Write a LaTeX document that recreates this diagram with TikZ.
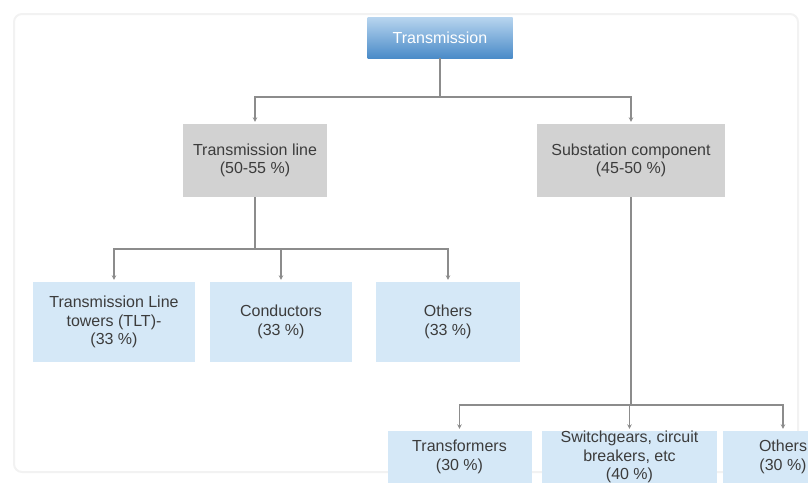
\documentclass[tikz,border=0pt]{standalone}
\usepackage{fontspec}
\setmainfont{Liberation Sans}
\usetikzlibrary{arrows.meta,positioning}
\definecolor{txInk}  {HTML}{3C3C3C}
\definecolor{txLine} {HTML}{8C8C8C}
\definecolor{txGrey} {HTML}{D2D2D2}
\definecolor{txPale} {HTML}{D5E8F7}
\definecolor{txTopA} {HTML}{B8D5EF}
\definecolor{txTopB} {HTML}{4A8BC8}
\definecolor{txFrame}{HTML}{F2F2F2}

\begin{document}
\begin{tikzpicture}[x=1pt,y=-1pt,font=\fontsize{16}{18.5}\selectfont,
      head/.style={draw=none,top color=txTopA,bottom color=txTopB,text=white,
                   minimum width=145pt,minimum height=41pt,inner sep=0pt},
      part/.style={draw=none,fill=txGrey,text=txInk,align=center,
                   minimum height=73pt,inner sep=0pt},
      item/.style={draw=none,fill=txPale,text=txInk,align=center,inner sep=0pt},
      link/.style={txLine,line width=1.1pt},
      arr/.style={link,-{Stealth[length=4.5pt,width=4.5pt]},shorten >=2pt}]

    \useasboundingbox (0,0) rectangle (808,491);
    \clip (0,0) rectangle (808,491);

    % faint slide frame
    \draw[txFrame,line width=2pt,rounded corners=8pt] (14,14) rectangle (798,472);

    \node[head] (top) at (440,37.5) {Transmission};

    \node[part,minimum width=144pt] (line) at (255,160.5) {Transmission line\\(50-55 \%)};
    \node[part,minimum width=188pt] (sub)  at (631,160.5) {Substation component\\(45-50 \%)};

    \node[item,minimum width=162pt,minimum height=80pt] (tlt)  at (114,322) {Transmission Line\\towers (TLT)-\\(33 \%)};
    \node[item,minimum width=142pt,minimum height=80pt] (cond) at (281,322) {Conductors\\(33 \%)};
    \node[item,minimum width=144pt,minimum height=80pt] (oth1) at (448,322) {Others\\(33 \%)};

    \node[item,minimum width=144pt,minimum height=52pt] (trf)  at (459.5,457) {Transformers\\(30 \%)};
    \node[item,minimum width=175pt,minimum height=52pt] (swg)  at (629.5,457) {Switchgears, circuit\\breakers, etc\\(40 \%)};
    \node[item,minimum width=120pt,minimum height=52pt] (oth2) at (783,457) {Others\\(30 \%)};

    \coordinate (j0) at (440,97);
    \coordinate (j1) at (255,249);
    \coordinate (j2) at (631,405);

    \draw[link] (top) -- (j0);
    \foreach \b in {line,sub}
      \draw[arr] (j0) -| (\b);

    \draw[link] (line) -- (j1);
    \foreach \b in {tlt,cond,oth1}
      \draw[arr] (j1) -| (\b);

    \draw[link] (sub) -- (j2);
    \foreach \b in {trf,swg,oth2}
      \draw[arr] (j2) -| (\b);
  \end{tikzpicture}
\end{document}
